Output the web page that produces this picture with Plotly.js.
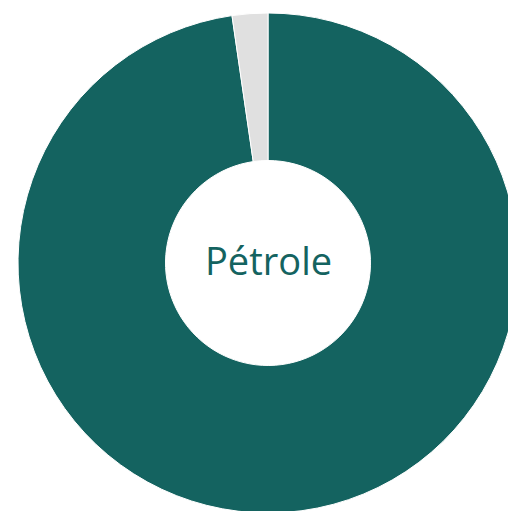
<!DOCTYPE html>
<html>
<head>
<meta charset="utf-8">
<script src="https://cdn.plot.ly/plotly-3.0.1.min.js"></script>
<style>
html, body { margin: 0; padding: 0; overflow: hidden; background: #fff; }
#chart { width: 518px; height: 513px; }
</style>
</head>
<body>
<div id="chart"></div>
<script>
var labels = ["Pétrole", "Autres"];
var values = [97.7, 2.3];
var colors = ["#146360", "#e0e0e0"];
var centerLabel = "Pétrole";

Plotly.newPlot("chart", [{
  type: "pie",
  labels: labels,
  values: values,
  hole: 0.41,
  sort: false,
  direction: "clockwise",
  rotation: 0,
  textinfo: "none",
  hoverinfo: "none",
  marker: { colors: colors, line: { color: "#ffffff", width: 1 } }
}], {
  width: 518,
  height: 513,
  margin: { l: 18, r: 0, t: 13, b: 0 },
  showlegend: false,
  paper_bgcolor: "#ffffff",
  annotations: [{
    text: centerLabel,
    x: 0.5, y: 0.5, xref: "paper", yref: "paper",
    yshift: 3,
    showarrow: false,
    font: { family: "Open Sans, sans-serif", size: 38, color: "#146360", weight: 500 }
  }]
}, { staticPlot: true, displayModeBar: false });
</script>
</body>
</html>
